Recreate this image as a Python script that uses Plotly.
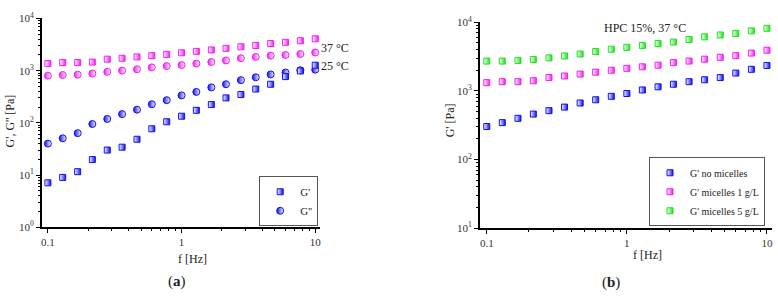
import plotly.graph_objects as go

# ---------------- data ----------------
freq = [0.1, 0.129, 0.167, 0.215, 0.278, 0.359, 0.464, 0.599, 0.774, 1.0,
        1.29, 1.67, 2.15, 2.78, 3.59, 4.64, 5.99, 7.74, 10.0]

# panel (a)
g1_37 = [1368, 1426, 1430, 1462, 1660, 1730, 1836, 1940, 2050, 2200,
         2344, 2497, 2682, 2868, 3043, 3311, 3494, 3752, 4080]
g2_37 = [802, 826, 836, 883, 949, 1002, 1062, 1156, 1222, 1280,
         1368, 1464, 1570, 1730, 1836, 1940, 2000, 2083, 2230]
g1_25 = [7.1, 9.0, 11.6, 19.8, 30.1, 34.2, 48.5, 77, 105, 134,
         174, 224, 301, 349, 445, 549, 770, 988, 1273]
g2_25 = [40, 50.6, 63.5, 95, 119, 147, 179, 227, 272, 336,
         392, 478, 549, 658, 747, 847, 921, 1019, 1045]

# panel (b)
g1_none = [303, 345, 399, 460, 516, 581, 667, 743, 834, 917,
           1033, 1148, 1251, 1364, 1454, 1565, 1820, 2065, 2349]
g1_m1 = [1321, 1365, 1365, 1409, 1565, 1652, 1762, 1878, 2002, 2134,
         2245, 2371, 2585, 2721, 2900, 3092, 3266, 3559, 3917]
g1_m5 = [2721, 2721, 2783, 2873, 3033, 3234, 3450, 3752, 4049, 4315,
         4603, 4900, 5157, 5623, 6134, 6537, 6880, 7500, 8175]

ytick_a = [1, 10, 100, 1000, 10000]
ytext_a = ["10<sup>0</sup>", "10<sup>1</sup>", "10<sup>2</sup>", "10<sup>3</sup>", "10<sup>4</sup>"]
ytick_b = [10, 100, 1000, 10000]
ytext_b = ["10<sup>1</sup>", "10<sup>2</sup>", "10<sup>3</sup>", "10<sup>4</sup>"]
xtick = [0.1, 1, 10]
xtext = ["0.1", "1", "10"]

BLUE = "#1010f0"
PINK = "#f020f0"
GREEN = "#20e020"
FONT = "Liberation Serif"

W, H = 778, 299


def px(v):
    return v / W


def py(v):
    return (H - v) / H


def sq(color):
    return dict(symbol="square", size=6, color="white",
                gradient=dict(type="horizontal", color=color),
                line=dict(color=color, width=1))


def circ(color):
    return dict(symbol="circle", size=7, color=color,
                gradient=dict(type="horizontal", color="white"),
                line=dict(color=color, width=1))


fig = go.Figure()

# panel (a)
fig.add_trace(go.Scatter(x=freq, y=g1_37, mode="markers", marker=sq(PINK),
                         showlegend=False, xaxis="x", yaxis="y"))
fig.add_trace(go.Scatter(x=freq, y=g2_37, mode="markers", marker=circ(PINK),
                         showlegend=False, xaxis="x", yaxis="y"))
fig.add_trace(go.Scatter(x=freq, y=g2_25, mode="markers", marker=circ(BLUE),
                         name="G''", showlegend=False, xaxis="x", yaxis="y"))
fig.add_trace(go.Scatter(x=freq, y=g1_25, mode="markers", marker=sq(BLUE),
                         name="G'", legend="legend", legendrank=1, xaxis="x", yaxis="y"))
fig.add_trace(go.Scatter(x=[None], y=[None], mode="markers", marker=circ(BLUE),
                         name="G''", legend="legend", legendrank=2, xaxis="x", yaxis="y"))

# panel (b)
fig.add_trace(go.Scatter(x=freq, y=g1_none, mode="markers", marker=sq(BLUE),
                         name="G' no micelles", legend="legend2", xaxis="x2", yaxis="y2"))
fig.add_trace(go.Scatter(x=freq, y=g1_m1, mode="markers", marker=sq(PINK),
                         name="G' micelles 1 g/L", legend="legend2", xaxis="x2", yaxis="y2"))
fig.add_trace(go.Scatter(x=freq, y=g1_m5, mode="markers", marker=sq(GREEN),
                         name="G' micelles 5 g/L", legend="legend2", xaxis="x2", yaxis="y2"))

minor_x = [v * m for v in (0.1, 1) for m in range(2, 10)]
minor_ya = [v * m for v in (1, 10, 100, 1000) for m in range(2, 10)]
minor_yb = [v * m for v in (10, 100, 1000) for m in range(2, 10)]

axis_common = dict(type="log", showgrid=False, zeroline=False, showline=True,
                   linecolor="black", linewidth=1.5, ticks="outside", ticklen=4,
                   tickwidth=1, tickcolor="black",
                   tickfont=dict(family=FONT, size=11, color="#333"))

fig.update_layout(
    width=W, height=H,
    margin=dict(l=0, r=0, t=0, b=0),
    paper_bgcolor="white", plot_bgcolor="white",
    font=dict(family=FONT, size=11, color="black"),
    xaxis=dict(domain=[px(41), px(320)], range=[-1.045, 1.037], anchor="y",
               tickvals=xtick, ticktext=xtext,
               minor=dict(tickvals=minor_x, ticks="outside", ticklen=2, tickcolor="black"),
               **axis_common),
    yaxis=dict(domain=[py(230), py(11)], range=[0, 4], anchor="x",
               tickvals=ytick_a, ticktext=ytext_a,
               minor=dict(tickvals=minor_ya, ticks="outside", ticklen=2, tickcolor="black"),
               **axis_common),
    xaxis2=dict(domain=[px(480), px(773)], range=[-1.05, 1.036], anchor="y2",
                tickvals=xtick, ticktext=xtext,
                minor=dict(tickvals=minor_x, ticks="outside", ticklen=2, tickcolor="black"),
                **axis_common),
    yaxis2=dict(domain=[py(231), py(15)], range=[1, 4], anchor="x2",
                tickvals=ytick_b, ticktext=ytext_b,
                minor=dict(tickvals=minor_yb, ticks="outside", ticklen=2, tickcolor="black"),
                **axis_common),
    legend=dict(x=px(318), y=py(229), xanchor="right", yanchor="bottom",
                bgcolor="white", bordercolor="#555", borderwidth=1,
                font=dict(family=FONT, size=11, color="#222"),
                tracegroupgap=0, itemwidth=30),
    legend2=dict(x=px(766), y=py(229), xanchor="right", yanchor="bottom",
                 bgcolor="white", bordercolor="#555", borderwidth=1,
                 font=dict(family=FONT, size=10, color="#222"),
                 tracegroupgap=0, itemwidth=30),
)

ann = [
    dict(text="G', G'' [Pa]", x=px(9), y=py(118), textangle=-90, size=12),
    dict(text="G' [Pa]", x=px(451), y=py(118), textangle=-90, size=12),
    dict(text="f [Hz]", x=px(192), y=py(263), textangle=0, size=12),
    dict(text="f [Hz]", x=px(648), y=py(259), textangle=0, size=12),
    dict(text="(<b>a</b>)", x=px(176), y=py(287), textangle=0, size=15),
    dict(text="(<b>b</b>)", x=px(612), y=py(288), textangle=0, size=15),
    dict(text="37 °C", x=px(335), y=py(42), textangle=0, size=12),
    dict(text="25 °C", x=px(335), y=py(61), textangle=0, size=12),
    dict(text="HPC 15%, 37 °C", x=px(646), y=py(21), textangle=0, size=12),
]
for a in ann:
    fig.add_annotation(text=a["text"], x=a["x"], y=a["y"], xref="paper", yref="paper",
                       showarrow=False, textangle=a["textangle"],
                       xanchor="center", yanchor="middle",
                       font=dict(family=FONT, size=a["size"], color="#222"))

fig.write_html("out.html", config={"displayModeBar": False},
               post_script="document.body.style.margin='0';document.body.style.overflow='hidden';")
